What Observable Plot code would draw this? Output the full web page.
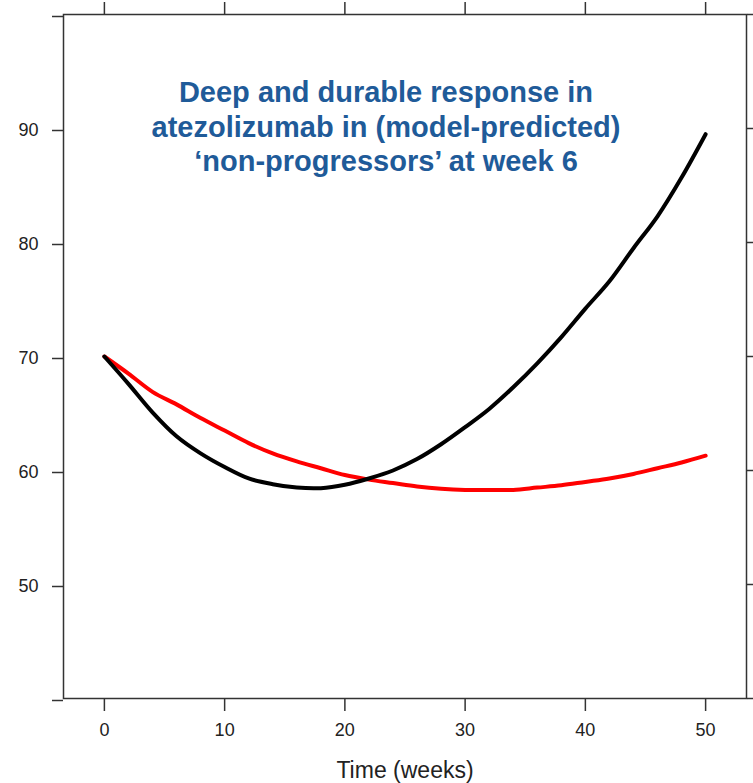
<!DOCTYPE html>
<html>
<head>
<meta charset="utf-8">
<script src="https://cdn.jsdelivr.net/npm/d3@7"></script>
<script src="https://cdn.jsdelivr.net/npm/@observablehq/plot@0.6"></script>
<style>
  body { margin: 0; background: #fff; }
</style>
</head>
<body>
<div id="chart"></div>
<script>
// Time points (weeks) shared by both predicted curves
const weeks = [0, 2, 4, 6, 8, 10, 12, 14, 16, 18, 20, 22, 24, 26, 28, 30, 32, 34, 36, 38, 40, 42, 44, 46, 48, 50];

// Model-predicted tumour size, comparator arm (black)
const comparator = [70.0, 67.6, 65.1, 63.0, 61.5, 60.3, 59.3, 58.8, 58.5, 58.45, 58.75, 59.3, 60.0, 61.0, 62.3, 63.8, 65.4, 67.3, 69.4, 71.7, 74.2, 76.6, 79.5, 82.3, 85.7, 89.5];

// Model-predicted tumour size, atezolizumab arm (red)
const atezolizumab = [70.0, 68.5, 66.9, 65.8, 64.6, 63.5, 62.4, 61.5, 60.8, 60.2, 59.6, 59.2, 58.9, 58.6, 58.4, 58.3, 58.3, 58.3, 58.5, 58.7, 59.0, 59.3, 59.7, 60.2, 60.7, 61.3];

const xTicks = [0, 10, 20, 30, 40, 50];
const yTicks = [40, 50, 60, 70, 80, 90, 100];
const yLabelled = [50, 60, 70, 80, 90];

const titleText = "Deep and durable response in\natezolizumab in (model-predicted)\n\u2018non-progressors\u2019 at week 6";
const xLabel = "Time (weeks)";

const rows = (name, values) => weeks.map((w, i) => ({arm: name, week: w, value: values[i]}));
const redRows = rows("atezolizumab", atezolizumab);
const blackRows = rows("comparator", comparator);

const axisInk = "#333";
const labelInk = "#222";
const font = "'Liberation Sans', Arial, Helvetica, sans-serif";

const chart = Plot.plot({
  width: 753,
  height: 783,
  marginTop: 14,
  marginBottom: 85,
  marginLeft: 63,
  marginRight: 7,
  style: {fontFamily: font, background: "#fff", overflow: "visible"},
  x: {domain: [-3.4, 53.4], axis: null},
  y: {domain: [40, 100], axis: null},
  marks: [
    // lattice-style ticks on all four sides
    Plot.axisX({anchor: "bottom", ticks: xTicks, tickSize: 13, tickPadding: 12, fontSize: 18,
                stroke: axisInk, strokeWidth: 1.5, fill: labelInk, label: null}),
    Plot.axisX({anchor: "top", ticks: xTicks, tickSize: 13, tickFormat: () => "",
                stroke: axisInk, strokeWidth: 1.5, label: null}),
    Plot.axisY({anchor: "left", ticks: yTicks, tickSize: 11, tickPadding: 14, fontSize: 18, dy: 2,
                tickFormat: d => yLabelled.includes(d) ? String(d) : "",
                stroke: axisInk, strokeWidth: 1.5, fill: labelInk, label: null}),
    Plot.axisY({anchor: "right", ticks: yTicks, tickSize: 11, tickFormat: () => "",
                stroke: axisInk, strokeWidth: 1.5, label: null}),
    Plot.frame({stroke: axisInk, strokeWidth: 1.5}),
    Plot.line(redRows, {x: "week", y: "value", stroke: "#ff0000", strokeWidth: 4, curve: "catmull-rom"}),
    Plot.line(blackRows, {x: "week", y: "value", stroke: "#000", strokeWidth: 4, curve: "catmull-rom"}),
    Plot.text([titleText], {frameAnchor: "top", text: d => d, dx: -19, dy: 63, lineAnchor: "top",
                            lineHeight: 1.19, fontSize: 29, fontWeight: "bold", fill: "#1f5b99"}),
    Plot.text([xLabel], {frameAnchor: "bottom", text: d => d, dy: 72, lineAnchor: "middle",
                         fontSize: 23, fill: labelInk})
  ]
});

document.getElementById("chart").appendChild(chart);
</script>
</body>
</html>
